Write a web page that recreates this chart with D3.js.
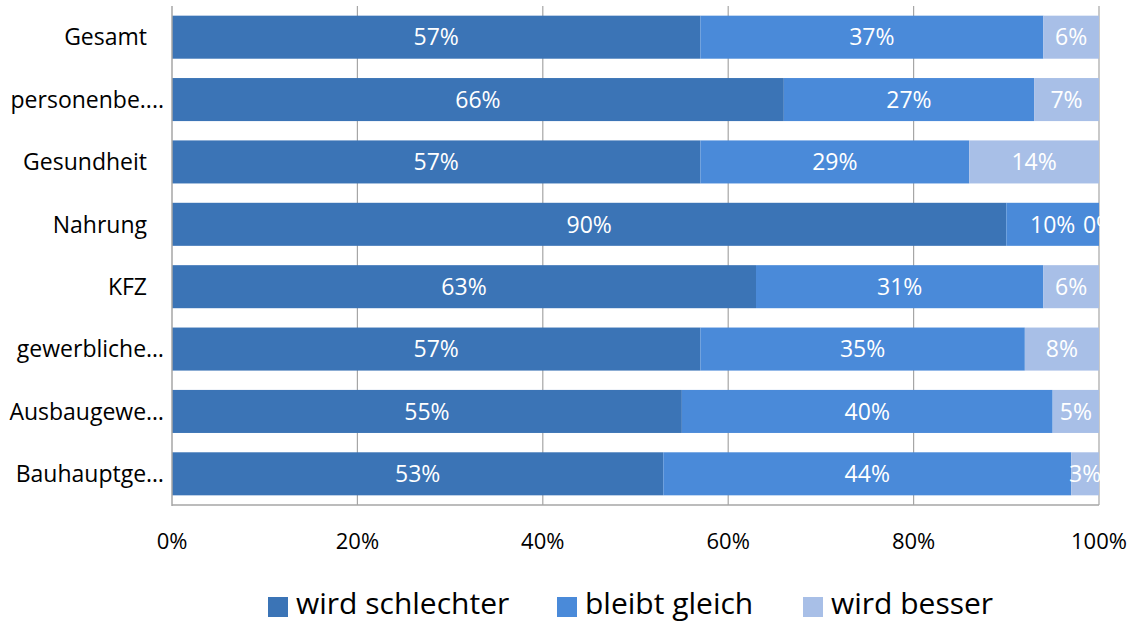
<!DOCTYPE html>
<html>
<head>
<meta charset="utf-8">
<script src="https://cdn.jsdelivr.net/npm/d3@7"></script>
<style>
  html, body { margin: 0; padding: 0; background: #fff; }
  svg { display: block; font-family: "Open Sans", "Noto Sans", sans-serif; }
</style>
</head>
<body>
<svg id="chart" width="1132" height="623"></svg>
<script>
// Categories (top to bottom) and shares per answer
const categories = ["Gesamt", "personenbe....", "Gesundheit", "Nahrung", "KFZ", "gewerbliche\u2026", "Ausbaugewe\u2026", "Bauhauptge\u2026"];
const wirdSchlechter = [57, 66, 57, 90, 63, 57, 55, 53];
const bleibtGleich   = [37, 27, 29, 10, 31, 35, 40, 44];
const wirdBesser     = [6, 7, 14, 0, 6, 8, 5, 3];
const seriesNames = ["wird schlechter", "bleibt gleich", "wird besser"];
const xTicks = [0, 20, 40, 60, 80, 100];

const colors = ["#3b74b6", "#4a8ad9", "#a8bfe7"];

const svg = d3.select("#chart");
const margin = { left: 172, right: 33, top: 6, bottom: 118 };
const W = 1132, H = 623;
const plotW = W - margin.left - margin.right;
const plotH = H - margin.top - margin.bottom;

const x = d3.scaleLinear().domain([0, 100]).range([0, plotW]);
const y = d3.scaleBand().domain(categories).range([0, plotH]).paddingInner(0.31).paddingOuter(0.155);

const rows = categories.map((c, i) => ({
  cat: c,
  "wird schlechter": wirdSchlechter[i],
  "bleibt gleich": bleibtGleich[i],
  "wird besser": wirdBesser[i]
}));
const stacked = d3.stack().keys(seriesNames)(rows);

const g = svg.append("g").attr("transform", `translate(${margin.left},${margin.top})`);

g.append("clipPath").attr("id", "plotClip")
  .append("rect").attr("x", 0).attr("y", 0).attr("width", plotW + 2).attr("height", plotH);

// vertical gridlines
g.append("g").selectAll("line").data(xTicks.slice(1)).join("line")
  .attr("x1", d => x(d)).attr("x2", d => x(d))
  .attr("y1", 0).attr("y2", plotH)
  .attr("stroke", "#a6a6a6").attr("stroke-width", 1.2);

// bars
stacked.forEach((s, si) => {
  g.append("g").attr("fill", colors[si])
    .selectAll("rect").data(s).join("rect")
    .attr("x", d => x(d[0]))
    .attr("y", (d, i) => y(categories[i]))
    .attr("width", d => x(d[1]) - x(d[0]))
    .attr("height", y.bandwidth());
});

// value labels, clipped at the plot's right edge
const labels = g.append("g").attr("clip-path", "url(#plotClip)")
  .attr("fill", "#ffffff").attr("font-size", 23).attr("text-anchor", "middle");
stacked.forEach((s) => {
  labels.append("g").selectAll("text").data(s).join("text")
    .attr("x", d => x((d[0] + d[1]) / 2))
    .attr("y", (d, i) => y(categories[i]) + y.bandwidth() / 2)
    .attr("dy", "0.36em")
    .text(d => (d[1] - d[0]) + "%");
});

// axis lines
g.append("line").attr("x1", 0).attr("x2", 0).attr("y1", 0).attr("y2", plotH + 1)
  .attr("stroke", "#a6a6a6").attr("stroke-width", 1.5);
g.append("line").attr("x1", 0).attr("x2", plotW).attr("y1", plotH).attr("y2", plotH)
  .attr("stroke", "#a6a6a6").attr("stroke-width", 1.5);

// category labels (shortened names sit a little closer to the axis)
g.append("g").attr("font-size", 23).attr("fill", "#000").attr("text-anchor", "end")
  .selectAll("text").data(categories).join("text")
  .attr("x", d => /(\u2026|\.\.\.)$/.test(d) ? -8 : -25)
  .attr("y", d => y(d) + y.bandwidth() / 2)
  .attr("dy", "0.36em")
  .text(d => d);

// x tick labels
g.append("g").attr("font-size", 22).attr("fill", "#000").attr("text-anchor", "middle")
  .selectAll("text").data(xTicks).join("text")
  .attr("x", d => x(d))
  .attr("y", plotH + 36)
  .attr("dy", "0.36em")
  .text(d => d + "%");

// legend
const legendX = [268, 557, 803];
const legend = svg.append("g").attr("font-size", 30).attr("fill", "#000");
seriesNames.forEach((n, i) => {
  legend.append("rect").attr("x", legendX[i]).attr("y", 597).attr("width", 20).attr("height", 20).attr("fill", colors[i]);
  legend.append("text").attr("x", legendX[i] + 28).attr("y", 614).text(n);
});
</script>
</body>
</html>
